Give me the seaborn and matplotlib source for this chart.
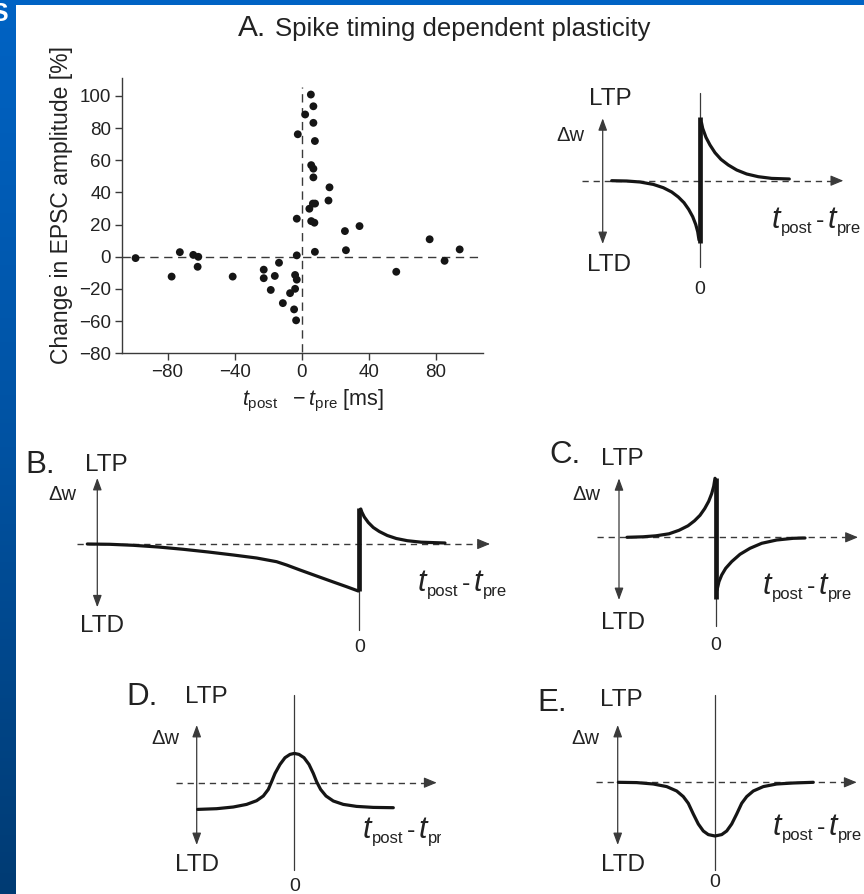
import numpy as np
import matplotlib
matplotlib.use('Agg')
import matplotlib.pyplot as plt
from matplotlib.patches import Rectangle
from matplotlib.colors import LinearSegmentedColormap
from matplotlib.transforms import Bbox
import seaborn as sns

sns.set_style('white')
plt.rcParams['font.family'] = ['Liberation Sans', 'DejaVu Sans']
plt.rcParams['mathtext.fontset'] = 'custom'
plt.rcParams['mathtext.rm'] = 'Liberation Sans'
plt.rcParams['mathtext.it'] = 'Liberation Sans:italic'

W, H = 864, 894
INK = '#151515'
TXT = '#222222'
LINE = '#3a3a3a'

# ---------------- Panel A (scatter) data ----------------
spike_dt = [-99.1, -77.6, -72.7, -64.7, -61.7, -62.1, -41.2, -22.7, -22.7, -16.1,
            -13.6, -18.5, -11.3, -7.0, -4.0, -4.0, -3.0, -4.6, -3.4, -3.0,
            -3.0, -2.4, 2.0, 5.4, 6.9, 6.9, 7.8, 5.6, 6.9, 6.9,
            4.5, 6.6, 7.9, 5.6, 7.5, 7.8, 16.5, 15.9, 25.7, 26.3,
            34.4, 56.3, 76.2, 85.1, 94.1]
epsc_change = [-0.8, -12.3, 2.9, 1.2, 0.0, -6.2, -12.3, -8.0, -13.3, -11.9,
               -3.7, -20.6, -28.8, -22.6, -19.9, -11.3, -14.2, -32.7, -39.5, 0.9,
               23.7, 76.2, 88.5, 100.9, 93.6, 83.3, 72.0, 57.0, 54.8, 49.4,
               29.9, 33.1, 33.1, 22.2, 21.2, 3.1, 43.2, 35.0, 16.0, 4.1,
               19.1, -9.3, 10.9, -2.5, 4.6]
xtick_vals = [-80, -40, 0, 40, 80]
xtick_labels = ['\u221280', '\u221240', '0', '40', '80']
ytick_vals = [100, 80, 60, 40, 20, 0, -20, -40, -60]
ytick_labels = ['100', '80', '60', '40', '20', '0', '\u221220', '\u221260', '\u221280']

# ---------------- Schematic curves (dt offset, dw offset) ----------------
A_ltd_x = [-88.3, -73.3, -60.0, -46.7, -36.7, -28.3, -21.7, -16.0, -11.3, -7.3, -4.3, -2.3, -1.0]
A_ltd_y = [0.0, -0.3, -1.3, -3.7, -7.0, -11.3, -16.3, -22.0, -28.7, -36.0, -43.7, -51.0, -59.3]
A_ltp_x = [1.5, 2.7, 6.0, 10.0, 15.0, 21.0, 28.3, 36.7, 46.7, 58.3, 71.7, 89.3]
A_ltp_y = [58.0, 52.3, 43.3, 35.7, 28.0, 21.3, 15.7, 10.7, 6.7, 4.0, 2.3, 1.7]
A_bar = [63.4, -62.0]

B_ltd_x = [-272.0, -249.3, -226.0, -201.0, -176.0, -151.0, -126.0, -102.7, -82.7, -72.7,
           -59.3, -42.7, -26.0, -12.7, -1.0]
B_ltd_y = [0.0, -0.3, -1.3, -3.0, -5.3, -8.0, -11.0, -14.0, -17.7, -21.0,
           -26.0, -32.0, -38.0, -42.7, -47.0]
B_ltp_x = [1.5, 2.5, 5.0, 9.0, 14.0, 20.0, 28.0, 37.0, 48.0, 62.0, 85.7]
B_ltp_y = [35.0, 32.0, 27.0, 21.5, 16.5, 12.5, 8.5, 5.5, 3.3, 1.8, 1.0]
B_bar = [36.0, -47.0]

C_ltp_x = [-89.0, -73.0, -60.0, -47.0, -37.0, -28.0, -21.5, -16.0, -11.3, -7.3, -4.3, -2.3, -1.0]
C_ltp_y = [0.0, 0.5, 1.5, 3.5, 7.0, 11.5, 16.5, 22.0, 28.7, 36.0, 43.7, 51.0, 59.0]
C_ltd_x = [1.0, 3.0, 5.7, 9.7, 15.7, 24.0, 34.0, 45.7, 60.7, 77.3, 89.0]
C_ltd_y = [-52.7, -44.3, -37.7, -31.0, -24.3, -17.0, -11.0, -6.0, -2.7, -1.0, -0.7]
C_bar = [59.0, -62.0]

D_x = [-96.7, -77.7, -61.0, -47.7, -37.7, -31.0, -26.0, -22.7, -19.3, -14.3, -9.3, -4.3, 0.0,
       4.7, 9.7, 14.7, 19.0, 22.3, 26.3, 31.7, 39.0, 49.0, 62.3, 79.0, 99.0]
D_y = [-26.7, -26.0, -24.3, -21.7, -18.0, -13.3, -6.7, 1.0, 9.3, 18.3, 25.0, 28.3, 29.3,
       28.3, 25.0, 18.3, 9.3, 1.0, -6.7, -13.3, -18.3, -21.7, -23.7, -24.7, -25.0]

E_x = [-96.7, -78.3, -61.7, -48.3, -38.3, -31.7, -26.7, -21.7, -16.7, -11.7, -6.7, 0.0,
       6.7, 11.7, 16.7, 21.7, 26.7, 31.7, 38.3, 48.3, 61.7, 78.3, 98.3]
E_y = [0.0, -0.3, -1.7, -4.3, -8.7, -14.3, -21.0, -31.7, -41.7, -48.7, -52.3, -53.7,
       -52.3, -48.7, -41.7, -31.7, -21.0, -14.3, -8.7, -4.3, -1.7, -0.7, 0.0]

fig = plt.figure(figsize=(8.64, 8.94), dpi=100)
fig.patch.set_facecolor('white')

# ---------------- slide border ----------------
bg = fig.add_axes([0, 0, 1, 1], zorder=-10)
cmap = LinearSegmentedColormap.from_list('slide', ['#0063c4', '#0052a2', '#003b73'])
bg.imshow(np.linspace(0, 1, 256)[:, None], cmap=cmap, extent=[0, 16, H, 0], aspect='auto')
bg.add_patch(Rectangle((0, 0), W, 5, color='#0063c4', lw=0))
bg.set_xlim(0, W)
bg.set_ylim(H, 0)
bg.axis('off')
fig.text(0.0, 1 - 14 / H, 'S', color='white', fontsize=18, fontweight='bold',
         ha='center', va='center')

# ---------------- title ----------------
fig.text(238 / W, 1 - 36 / H, 'A.', fontsize=21.5, color=TXT, va='baseline', ha='left')
fig.text(275 / W, 1 - 36 / H, 'Spike timing dependent plasticity', fontsize=18.5,
         color=TXT, va='baseline', ha='left')

# ---------------- scatter panel ----------------
ax = fig.add_axes([122.3 / W, 1 - 353.3 / H, (483 - 122.3) / W, (353.3 - 78.3) / H])
ax.set_facecolor('none')
ax.set_xlim(-107, 108)
ax.set_ylim(-59, 111)
ax.axhline(0, color=LINE, lw=1.0, ls=(0, (6, 4)), zorder=1)
ax.plot([0, 0], [-59, 105.5], color=LINE, lw=1.0, ls=(0, (6, 4)), zorder=1)
sns.scatterplot(x=spike_dt, y=epsc_change, s=32, color=INK, edgecolor='none', ax=ax, zorder=3)
for s in ['top', 'right']:
    ax.spines[s].set_visible(False)
for s in ['left', 'bottom']:
    ax.spines[s].set_color(LINE)
    ax.spines[s].set_linewidth(1.0)
ax.set_xticks(xtick_vals)
ax.set_xticklabels(xtick_labels)
ax.set_yticks(ytick_vals)
ax.set_yticklabels(ytick_labels)
ax.tick_params(direction='out', length=5, width=1, color=LINE, labelsize=13.5,
               labelcolor=TXT, pad=3, left=True, bottom=True)
ax.set_ylabel('Change in EPSC amplitude [%]', fontsize=16.5, color=TXT)
ax.yaxis.set_label_coords(-0.138, 0.54)
ax.set_xlabel(r'$t_{\mathrm{post}}\ \ -t_{\mathrm{pre}}$ [ms]', fontsize=15.5, color=TXT)
ax.xaxis.set_label_coords(0.53, -0.125)


# ---------------- schematic helpers ----------------
def schem_axes(ox, oy, x0=-330, x1=160, y0=-120, y1=100):
    # one data unit = one pixel, origin at (t_post - t_pre = 0, dw = 0)
    a = fig.add_axes([(ox + x0) / W, 1 - (oy - y0) / H, (x1 - x0) / W, (y1 - y0) / H])
    a.set_xlim(x0, x1)
    a.set_ylim(y0, y1)
    a.axis('off')
    a.set_facecolor('none')
    return a


def draw_frame(a, arrow_x, arrow_top, arrow_bot, dash_x0, dash_x1, vtop, vbot):
    a.annotate('', xy=(arrow_x, arrow_top), xytext=(arrow_x, arrow_bot),
               arrowprops=dict(arrowstyle='<|-|>,head_length=0.6,head_width=0.22',
                               color=LINE, lw=0.9, shrinkA=0, shrinkB=0, mutation_scale=12))
    a.plot([dash_x0, dash_x1 - 8], [0, 0], color=LINE, lw=1.0, ls=(0, (4.5, 3.5)), zorder=1)
    a.annotate('', xy=(dash_x1, 0), xytext=(dash_x1 - 9, 0),
               arrowprops=dict(arrowstyle='-|>,head_length=0.65,head_width=0.27',
                               color=LINE, lw=0.8, shrinkA=0, shrinkB=0, mutation_scale=12))
    a.plot([0, 0], [vtop, vbot], color=LINE, lw=0.9, zorder=1)


def draw_curve(a, xs, ys, lw=2.3):
    sns.lineplot(x=xs, y=ys, sort=False, estimator=None, color=INK, lw=lw, ax=a,
                 zorder=3, solid_capstyle='round', solid_joinstyle='round')


def draw_bar(a, bar):
    sns.lineplot(x=[0, 0], y=bar, sort=False, estimator=None, color=INK, lw=3.4, ax=a,
                 zorder=4, solid_capstyle='butt')


def time_label(a, x0, yb, clip_x=None):
    """t_post - t_pre written as chained pieces, baseline yb (data units = px)."""
    kw = dict(color=TXT, annotation_clip=False, textcoords='offset points', ha='left',
              va='baseline')
    t1 = a.text(x0, yb, 't', fontsize=22, style='italic', color=TXT, ha='left', va='baseline')
    p1 = a.annotate('post', xy=(1, yb - 5), xycoords=(t1, 'data'), xytext=(0.5, 0),
                    fontsize=12, **kw)
    m = a.annotate('-', xy=(1, yb), xycoords=(p1, 'data'), xytext=(2.5, 0),
                   fontsize=18, **kw)
    t2 = a.annotate('t', xy=(1, yb), xycoords=(m, 'data'), xytext=(2.5, 0),
                    fontsize=22, style='italic', **kw)
    p2 = a.annotate('pre', xy=(1, yb - 5), xycoords=(t2, 'data'), xytext=(0.3, 0),
                    fontsize=12, **kw)
    if clip_x is not None:
        for piece in (t1, p1, m, t2, p2):
            piece.set_clip_box(Bbox([[0, 0], [clip_x, H]]))
            piece.set_clip_on(True)


def labels(a, letter_xy, ltp_xy, dw_xy, ltd_xy, zero_xy, letter=None):
    if letter is not None:
        a.text(*letter_xy, letter, fontsize=22.5, color=TXT, ha='center', va='center')
    a.text(*ltp_xy, 'LTP', fontsize=17.5, color=TXT, ha='center', va='center')
    a.text(*dw_xy, '\u0394w', fontsize=14.5, color=TXT, ha='center', va='center')
    a.text(*ltd_xy, 'LTD', fontsize=17.5, color=TXT, ha='center', va='center')
    a.text(*zero_xy, '0', fontsize=14, color=TXT, ha='center', va='center')


# A-right
aA = schem_axes(700, 180.7)
draw_frame(aA, -97.3, 62.4, -63.3, -118.3, 143.3, 88, -86)
draw_curve(aA, A_ltd_x, A_ltd_y)
draw_curve(aA, A_ltp_x, A_ltp_y)
draw_bar(aA, A_bar)
labels(aA, None, (-89.3, 81.3), (-130, 45.4), (-91.3, -84.3), (0, -108.6))
time_label(aA, 72, -47.6)

# B
aB = schem_axes(359.3, 544)
draw_frame(aB, -262, 66, -63.3, -282.6, 130.7, 36, -86)
draw_curve(aB, B_ltd_x, B_ltd_y)
draw_curve(aB, B_ltp_x, B_ltp_y)
draw_bar(aB, B_bar)
labels(aB, (-319.3, 79), (-253.3, 79), (-297.3, 49), (-257.6, -82), (0, -103), 'B.')
time_label(aB, 58.5, -47)

# C
aC = schem_axes(716, 537.3)
draw_frame(aC, -97, 59, -62.7, -119.3, 142, 59, -88.7)
draw_curve(aC, C_ltp_x, C_ltp_y)
draw_curve(aC, C_ltd_x, C_ltd_y)
draw_bar(aC, C_bar)
labels(aC, (-151, 82.3), (-94, 78.3), (-130, 42.3), (-93, -85.7), (0, -108.7), 'C.')
time_label(aC, 47, -56.7)

# D
aD = schem_axes(294.3, 782.7)
draw_frame(aD, -97.6, 57.7, -62.3, -118.3, 142.4, 87.7, -87.3)
draw_curve(aD, D_x, D_y)
labels(aD, (-152.6, 86), (-87.6, 86), (-129.3, 44.4), (-97.6, -82.3), (0, -104), 'D.')
time_label(aD, 68.5, -55.6, clip_x=441)

# E
aE = schem_axes(715, 782.3)
draw_frame(aE, -97.3, 57.3, -62.7, -119, 141.7, 87.3, -87.7)
draw_curve(aE, E_x, E_y)
labels(aE, (-163.3, 79.3), (-93.3, 82.3), (-130, 44.3), (-92, -82.7), (0, -100), 'E.')
time_label(aE, 58, -52.7)

fig.savefig('out.png', dpi=100, facecolor='white')
